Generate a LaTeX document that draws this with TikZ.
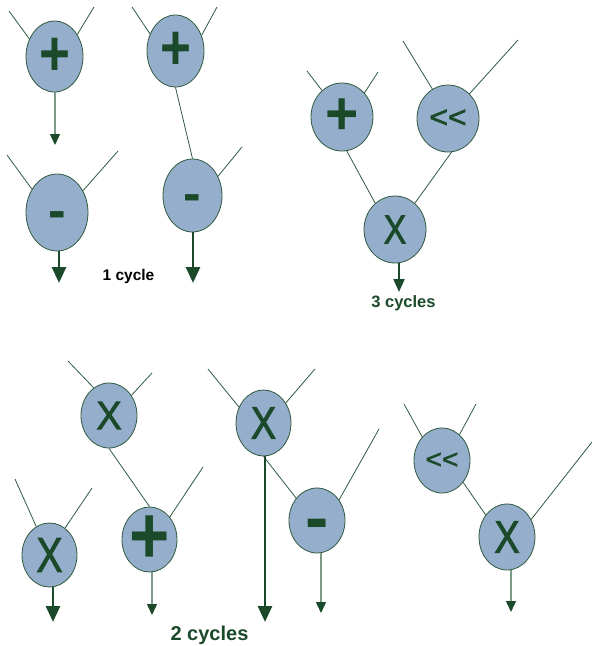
\documentclass[tikz,border=0pt]{standalone}
\usepackage{fontspec}
\setmainfont{Liberation Sans}
\newfontfamily\opfont{Liberation Sans}[FakeBold=2]
\usetikzlibrary{shapes.geometric,arrows.meta}
\definecolor{opfill}{HTML}{95AECB}
\definecolor{opline}{HTML}{2F5A40}
\definecolor{darkgreen}{HTML}{1B4A2B}
\definecolor{wiregray}{HTML}{7C9A88}
\newcommand{\opsym}[3]{\fontsize{#1}{#1}\selectfont\scalebox{1}[#2]{#3}}

\begin{document}
\begin{tikzpicture}[x=1pt,y=-1pt,
  op/.style={ellipse,draw=opline,fill=opfill,line width=0.8pt,inner sep=0pt,minimum width=56,minimum height=65},
  sym/.style={text=darkgreen,inner sep=0pt},
  plus/.style 2 args={label={[sym]center:\bfseries\opsym{#1}{#2}{+}}},
  minus/.style={label={[sym]center:\bfseries\opsym{#1}{1}{\vphantom{+}-}}},
  times/.style 2 args={label={[sym]center:\opfont\opsym{#1}{#2}{X}}},
  shift/.style={label={[sym]center:\opfont\opsym{#1}{0.95}{<{}<}}},
  wire/.style={draw=opline,line width=0.8pt},
  thinout/.style={-{Triangle[width=10pt,length=11pt,color=darkgreen]},draw=wiregray,line width=1.3pt},
  midout/.style={-{Triangle[width=11pt,length=13pt]},draw=darkgreen,line width=2pt},
  thickout/.style={-{Triangle[width=14pt,length=16pt]},draw=darkgreen,line width=2.8pt},
  cycles/.style={anchor=base,text=darkgreen,font=\bfseries\fontsize{#1}{#1}\selectfont}]
  \useasboundingbox (0,0) rectangle (592,646);

  % 1 cycle
  \node[op,minimum width=57,minimum height=71,plus={53}{1.2}] (1) at (54.5,56.5) {};
  \node[op,minimum width=62,minimum height=77,minus=53] (2) at (57,212.5) {};
  \node[op,minimum width=57,minimum height=72,plus={53}{1.2}] (3) at (175.5,51) {};
  \node[op,minimum width=59,minimum height=73,minus=53] (4) at (192.5,195.5) {};
  \node[anchor=base,font=\bfseries\fontsize{15.5}{15.5}\selectfont] (c1) at (128.5,280) {1 cycle};

  % 3 cycles
  \node[op,minimum width=62,minimum height=68,plus={57}{1.07}] (5) at (342,117) {};
  \node[op,minimum width=62,minimum height=67,shift=32] (6) at (448,118.5) {};
  \node[op,minimum width=62,minimum height=67,times={34}{1.2}] (7) at (395,229.5) {};
  \node[cycles=16.5] (c3) at (403.5,307) {3 cycles};

  % 2 cycles
  \node[op,times={38}{1.05}] (8) at (109,415.5) {};
  \node[op,minimum width=55,minimum height=64,times={39}{1.25}] (9) at (49.5,555) {};
  \node[op,minimum width=55,plus={69}{1.18}] (10) at (149.5,539.5) {};
  \node[op,minimum width=55,minimum height=66,times={38}{1.2}] (11) at (263.5,423) {};
  \node[op,minus=70] (12) at (317,520.5) {};
  \node[op,shift=28] (13) at (442,460.5) {};
  \node[op,minimum height=66,times={38}{1.2}] (14) at (507,537) {};
  \node[cycles=20] (c2) at (209.5,640.5) {2 cycles};

  \coordinate (a1) at (9,11);     \coordinate (b1) at (94,7);
  \coordinate (a2) at (7,155);    \coordinate (b2) at (118,151);
  \coordinate (a3) at (132,7);    \coordinate (b3) at (217,7);
  \coordinate (b4) at (242,147);
  \coordinate (a5) at (307,71);   \coordinate (b5) at (378,72);
  \coordinate (a6) at (403,41);   \coordinate (b6) at (518,40);
  \coordinate (a8) at (68,361);   \coordinate (b8) at (152,373);
  \coordinate (a9) at (15,479);   \coordinate (b9) at (92,488);
  \coordinate (b10) at (203,467);
  \coordinate (a11) at (208,369); \coordinate (b11) at (315,369);
  \coordinate (b12) at (379,429);
  \coordinate (a13) at (404,404); \coordinate (b13) at (476,404);
  \coordinate (b14) at (592,442);

  \coordinate (o1) at (55,145);   \coordinate (o2) at (59,283);
  \coordinate (o4) at (193,283);  \coordinate (o7) at (399,292);
  \coordinate (o9) at (53,622);   \coordinate (o10) at (152,615);
  \coordinate (o11) at (265,622); \coordinate (o12) at (321,613);
  \coordinate (o14) at (511,612);

  \path[wire]
    (a1) edge (1.145)
    (b1) edge (1.44)
    (a2) edge (2.137)
    (b2) edge (2.40)
    (a3) edge (3.146)
    (b3) edge (3.31)
    (3.south) edge (4.north)
    (b4) edge (4.37)
    (a5) edge (5.127)
    (b5) edge (5.47)
    (5.278) edge (7.127)
    (a6) edge (6.118)
    (b6) edge (6.49)
    (6.276) edge (7.53)
    (a8) edge (8.119)
    (b8) edge (8.42)
    (8.south) edge (10.north)
    (a9) edge (9.115)
    (b9) edge (9.60)
    (b10) edge (10.48)
    (a11) edge (11.147)
    (b11) edge (11.42)
    (11.south) edge (12.133)
    (b12) edge (12.43)
    (a13) edge (13.130)
    (b13) edge (13.56)
    (13.314) edge (14.134)
    (b14) edge (14.36);

  \draw[thinout] (1.south -| o1) -- (o1);
  \draw[thinout] (10.south -| o10) -- (o10);
  \draw[thinout] (12.south -| o12) -- (o12);
  \draw[thinout] (14.south -| o14) -- (o14);
  \draw[midout] (7.south -| o7) -- (o7);
  \draw[thickout] (2.south -| o2) -- (o2);
  \draw[thickout] (4.south -| o4) -- (o4);
  \draw[thickout] (9.south -| o9) -- (o9);
  \draw[thickout] (11.south -| o11) -- (o11);
\end{tikzpicture}
\end{document}
